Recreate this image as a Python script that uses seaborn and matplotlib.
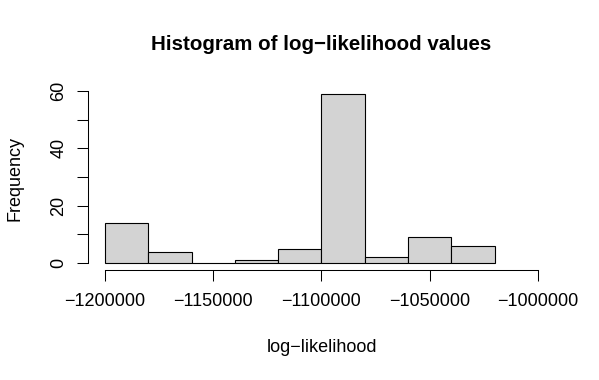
import numpy as np
import pandas as pd
import seaborn as sns
import matplotlib.pyplot as plt

# histogram bins (width 20000)
bin_edges = [-1200000, -1180000, -1160000, -1140000, -1120000, -1100000,
             -1080000, -1060000, -1040000, -1020000]
counts = [14, 4, 0, 1, 5, 59, 2, 9, 6]

x_ticks = [-1200000, -1150000, -1100000, -1050000, -1000000]
x_labels = ["\u22121200000", "\u22121150000", "\u22121100000", "\u22121050000", "\u22121000000"]
y_ticks = [0, 10, 20, 30, 40, 50, 60]
y_labels = ["0", "", "20", "", "40", "", "60"]

sns.set_theme(style="ticks")
plt.rcParams['font.family'] = ['Liberation Sans', 'DejaVu Sans']
plt.rcParams['text.color'] = 'black'

mids = [(a + b) / 2 for a, b in zip(bin_edges[:-1], bin_edges[1:])]
df = pd.DataFrame({"loglik": mids, "n": counts})

fig = plt.figure(figsize=(5.99, 3.80), dpi=100)
ax = fig.add_axes([0.1464, 0.29, 0.7806, 0.4808])

sns.histplot(data=df, x="loglik", weights="n", bins=bin_edges, ax=ax,
             color="#D3D3D3", edgecolor="black", linewidth=0.8, alpha=1)

ax.set_xlim(-1208000, -992000)
ax.set_ylim(-2.36, 61.36)
ax.set_xticks(x_ticks)
ax.set_xticklabels(x_labels)
ax.set_yticks(y_ticks)
ax.set_yticklabels(y_labels, rotation=90, va="center")
ax.tick_params(axis="x", length=7.9, width=0.75, pad=8.9, labelsize=13, colors="black")
ax.tick_params(axis="y", length=7.6, width=0.75, pad=7, labelsize=13, colors="black")
ax.set_xlabel("")
ax.set_ylabel("")

for side in ["top", "right"]:
    ax.spines[side].set_visible(False)
ax.spines["bottom"].set_bounds(-1200000, -1000000)
ax.spines["left"].set_bounds(0, 60)
for side in ["bottom", "left"]:
    ax.spines[side].set_linewidth(0.75)
    ax.spines[side].set_color("black")

plot_cx = (87.7 + 555.3) / 2 / 599
fig.text(plot_cx, 1 - 45 / 380, "Histogram of log\u2212likelihood values",
         ha="center", va="center", fontsize=14.8, fontweight="bold", color="black")
fig.text(plot_cx, 1 - 347 / 380, "log\u2212likelihood",
         ha="center", va="center", fontsize=13, color="black")
fig.text(15 / 599, 1 - (87 + 270) / 2 / 380, "Frequency",
         ha="center", va="center", rotation=90, fontsize=13, color="black")

fig.savefig("out.png", dpi=100, facecolor="white")
